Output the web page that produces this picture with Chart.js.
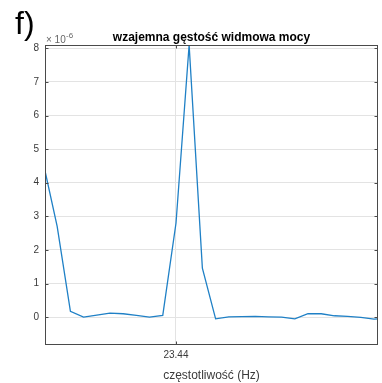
<!DOCTYPE html>
<html>
<head>
<meta charset="utf-8">
<script src="https://cdn.jsdelivr.net/npm/chart.js@4.4.0/dist/chart.umd.min.js"></script>
<style>
html,body{margin:0;padding:0;background:#fff;}
#wrap{width:382px;height:383px;position:relative;}
</style>
</head>
<body>
<div id="wrap"><canvas id="c" width="382" height="383"></canvas></div>
<script>
// Frequencies (Hz) of the spectrum bins
const freqs = [13.67, 14.65, 15.63, 16.60, 17.58, 18.55, 19.53, 20.51, 21.48, 22.46,
               23.44, 24.41, 25.39, 26.37, 27.34, 28.32, 29.30, 30.27, 31.25, 32.23,
               33.20, 34.18, 35.16, 36.13, 37.11, 38.09, 39.06];
// Cross power spectral density (x 10^-6)
const csd = [4.5, 2.7, 0.17, 0.0, 0.06, 0.12, 0.10, 0.05, 0.0, 0.05,
             2.8, 8.1, 1.46, -0.05, 0.01, 0.015, 0.02, 0.01, 0.0, -0.05,
             0.1, 0.1, 0.04, 0.02, -0.01, -0.06, -0.04];
const yTicks = [0, 1, 2, 3, 4, 5, 6, 7, 8];
const xTicks = [23.4375];
const xTickLabels = ['23.44'];
const titleText = 'wzajemna gęstość widmowa mocy';
const xTitle = 'częstotliwość (Hz)';
const panelLabel = 'f)';

const AX = '#3a3a3a';
const FONT = '"Liberation Sans", Arial, Helvetica, sans-serif';

const decor = {
  id: 'decor',
  afterDraw(chart) {
    const {ctx, chartArea: a, scales} = chart;
    ctx.save();
    // box
    ctx.strokeStyle = '#4a4a4a';
    ctx.lineWidth = 1;
    ctx.strokeRect(Math.round(a.left) + 0.5, Math.round(a.top) + 0.5,
                   Math.round(a.right - a.left) - 1, Math.round(a.bottom - a.top) - 1);
    // inward ticks
    ctx.beginPath();
    yTicks.forEach(v => {
      const y = Math.round(scales.y.getPixelForValue(v)) + 0.5;
      ctx.moveTo(a.left, y); ctx.lineTo(a.left + 3.5, y);
      ctx.moveTo(a.right, y); ctx.lineTo(a.right - 3.5, y);
    });
    xTicks.forEach(v => {
      const x = Math.round(scales.x.getPixelForValue(v)) + 0.5;
      ctx.moveTo(x, a.bottom); ctx.lineTo(x, a.bottom - 3.5);
      ctx.moveTo(x, a.top); ctx.lineTo(x, a.top + 3.5);
    });
    ctx.stroke();
    // title
    ctx.fillStyle = '#000';
    ctx.font = 'bold 12px ' + FONT;
    ctx.textAlign = 'center';
    ctx.textBaseline = 'alphabetic';
    ctx.fillText(titleText, (a.left + a.right) / 2, 41);
    // exponent
    ctx.fillStyle = '#666';
    ctx.textAlign = 'left';
    ctx.font = '10px ' + FONT;
    ctx.fillText('\u00d7 10', 46, 43);
    ctx.font = '8px ' + FONT;
    ctx.fillText('-6', 66, 38);
    // panel label
    ctx.fillStyle = '#000';
    ctx.font = '32px ' + FONT;
    ctx.fillText(panelLabel, 15, 34);
    ctx.restore();
  }
};

new Chart(document.getElementById('c'), {
  type: 'line',
  data: {
    datasets: [{
      data: freqs.map((f, i) => ({x: f, y: csd[i]})),
      borderColor: '#1f80c6',
      borderWidth: 1.3,
      pointRadius: 0,
      tension: 0,
      fill: false
    }]
  },
  options: {
    responsive: false,
    animation: false,
    devicePixelRatio: 1,
    layout: {padding: {left: 0, right: 4, top: 45, bottom: 0}},
    plugins: {legend: {display: false}, tooltip: {enabled: false}, title: {display: false}},
    scales: {
      x: {
        type: 'linear',
        min: 13.75, max: 38.38,
        afterBuildTicks: s => { s.ticks = xTicks.map(v => ({value: v})); },
        afterFit: s => { s.height = 38; },
        grid: {color: '#e3e3e3', drawTicks: false},
        border: {display: false},
        ticks: {
          callback: (v) => { const i = xTicks.indexOf(v); return i >= 0 ? xTickLabels[i] : ''; },
          color: AX, font: {family: FONT, size: 10}, padding: 4, maxRotation: 0
        },
        title: {display: true, text: xTitle, color: AX, font: {family: FONT, size: 12}, padding: {top: 0, bottom: 0}}
      },
      y: {
        min: -0.83, max: 8.1,
        afterBuildTicks: s => { s.ticks = yTicks.map(v => ({value: v})); },
        afterFit: s => { s.width = 45; },
        grid: {color: '#e3e3e3', drawTicks: false},
        border: {display: false},
        ticks: {color: AX, font: {family: FONT, size: 10}, padding: 6}
      }
    }
  },
  plugins: [decor]
});
</script>
</body>
</html>
